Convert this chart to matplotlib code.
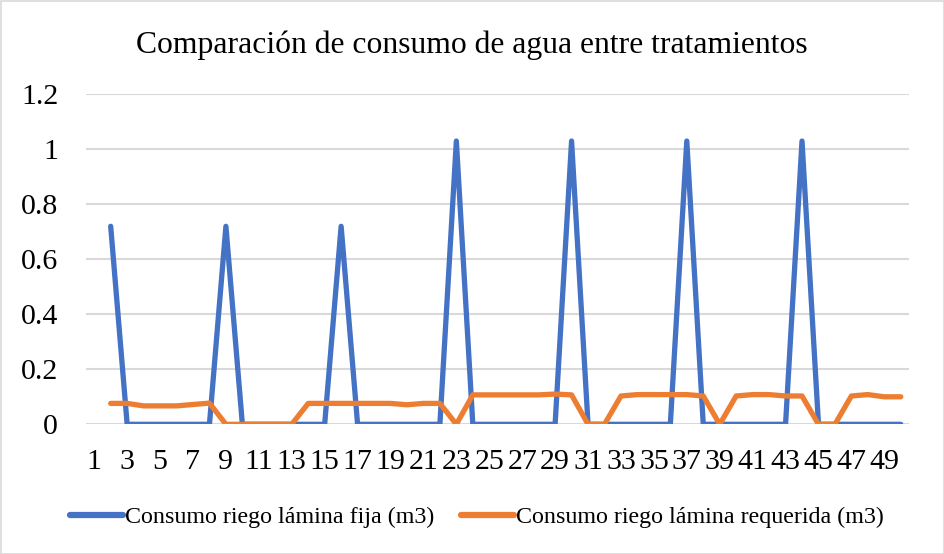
import numpy as np
import matplotlib
matplotlib.use("Agg")
import matplotlib.pyplot as plt
from matplotlib.patches import Rectangle

# Data
categories = list(range(1, 51))
fija = [np.nan, 0.72, 0, 0, 0, 0, 0, 0, 0.72, 0,
        0, 0, 0, 0, 0, 0.72, 0, 0, 0, 0,
        0, 0, 1.03, 0, 0, 0, 0, 0, 0, 1.03,
        0, 0, 0, 0, 0, 0, 1.03, 0, 0, 0,
        0, 0, 0, 1.03, 0, 0, 0, 0, 0, 0]
requerida = [np.nan, 0.076, 0.076, 0.067, 0.067, 0.067, 0.072, 0.077, 0, 0,
             0, 0, 0, 0.076, 0.076, 0.076, 0.076, 0.076, 0.076, 0.071,
             0.076, 0.076, 0, 0.107, 0.107, 0.107, 0.107, 0.107, 0.110, 0.107,
             0, 0, 0.103, 0.108, 0.108, 0.108, 0.108, 0.103, 0, 0.103,
             0.108, 0.108, 0.103, 0.103, 0, 0, 0.103, 0.108, 0.100, 0.100]
xtick_labels = [str(c) for c in categories[::2]]
yticks = [0, 0.2, 0.4, 0.6, 0.8, 1, 1.2]
ytick_labels = ["0", "0.2", "0.4", "0.6", "0.8", "1", "1.2"]
series_names = ["Consumo riego lámina fija (m3)", "Consumo riego lámina requerida (m3)"]
title = "Comparación de consumo de agua entre tratamientos"

plt.rcParams['font.family'] = ['Liberation Serif', 'DejaVu Serif']

W, H = 944, 554
fig = plt.figure(figsize=(W / 100, H / 100), dpi=100)
ax = fig.add_axes([86 / W, (H - 424.3) / H, (909 - 86) / W, (424.3 - 94.3) / H])

ax.plot(categories, fija, color="#4472C4", lw=3.8, solid_capstyle="round",
        solid_joinstyle="round", label=series_names[0], zorder=3)
ax.plot(categories, requerida, color="#ED7D31", lw=3.8, solid_capstyle="round",
        solid_joinstyle="round", label=series_names[1], zorder=4)

ax.set_xlim(0.5, 50.5)
ax.set_ylim(0, 1.2)
ax.set_yticks(yticks)
ax.set_yticklabels(ytick_labels, fontsize=21.5)
ax.set_xticks(categories[::2])
ax.set_xticklabels(xtick_labels, fontsize=21.5)
ax.tick_params(axis="both", length=0, colors="black")
ax.tick_params(axis="y", pad=20)
ax.tick_params(axis="x", pad=18)
ax.grid(axis="y", color="#D9D9D9", lw=1.5, zorder=0)
ax.set_axisbelow(True)
for s in ax.spines.values():
    s.set_visible(False)

fig.text(472 / W, 1 - 45 / H, title, ha="center", va="center", fontsize=22.8)

leg = fig.legend(loc="center", bbox_to_anchor=(477 / W, 1 - 517 / H), ncol=2,
                 frameon=False, fontsize=17.3, handlelength=2.2, handletextpad=0.1,
                 columnspacing=1.1)
for line in leg.get_lines():
    line.set_linewidth(4.5)

fig.patches.append(Rectangle((0.5 / W, 0.5 / H), 1 - 1 / W, 1 - 1 / H,
                             transform=fig.transFigure, fill=False,
                             edgecolor="#D9D9D9", lw=1.2))

fig.savefig("out.png", dpi=100, facecolor="white")
